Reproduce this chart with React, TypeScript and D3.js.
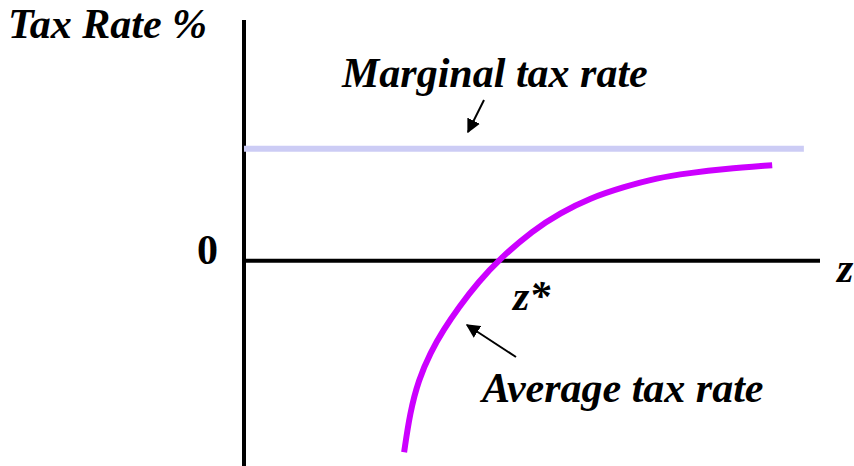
import React from "react";
import * as d3 from "d3";

const W = 854;
const H = 466;

// Average tax rate curve (z, rate %)
const avgZ = [27.8, 28.8, 30.3, 32.4, 34.6, 37.3, 40.7, 44.4, 50.2, 54.9, 60.1, 65.8, 71.7, 77.4, 83.2, 91.7];
const avgRate = [-51.3, -40.8, -31.9, -24.5, -18.6, -12.4, -5.7, 0.5, 8.2, 12.8, 16.8, 19.7, 22.2, 23.5, 24.6, 25.6];
const marginalRate = 30;
const marginalEnd = 97.2;
const zMax = 100;

export default function App() {
  const x = d3.scaleLinear().domain([0, zMax]).range([244, 820]);
  const y = d3.scaleLinear().domain([-55, 64.5]).range([466, 20]);
  const pts: [number, number][] = avgZ.map((z, i) => [z, avgRate[i]]);
  const line = d3
    .line<[number, number]>()
    .x((d) => x(d[0]))
    .y((d) => y(d[1]))
    .curve(d3.curveBasis);

  const font = "Liberation Serif, Times New Roman, serif";

  return (
    <svg width={W} height={H} style={{ position: "absolute", left: 0, top: 0 }}>
      <defs>
        <marker id="ah" viewBox="0 0 10 10" refX="9" refY="5" markerWidth="7" markerHeight="7" orient="auto" markerUnits="strokeWidth">
          <path d="M0,0 L10,5 L0,10 z" fill="#000" />
        </marker>
      </defs>
      <rect width={W} height={H} fill="#fff" />
      {/* axes */}
      <line x1={x(0)} x2={x(0)} y1={y(64.5)} y2={y(-55)} stroke="#000" strokeWidth={4} />
      <line x1={x(0)} x2={x(zMax)} y1={y(0)} y2={y(0)} stroke="#000" strokeWidth={4} />
      {/* marginal tax rate */}
      <line x1={x(0)} x2={x(marginalEnd)} y1={y(marginalRate)} y2={y(marginalRate)} stroke="#ccccf5" strokeWidth={6} />
      {/* average tax rate */}
      <path d={line(pts) || ""} fill="none" stroke="#cc00ff" strokeWidth={6} />
      {/* arrows */}
      <line x1={484} y1={100} x2={468} y2={132} stroke="#000" strokeWidth={2} markerEnd="url(#ah)" />
      <line x1={516} y1={357} x2={467} y2={325} stroke="#000" strokeWidth={2} markerEnd="url(#ah)" />
      {/* texts */}
      <g fontFamily={font} fontWeight="bold" fontStyle="italic" fontSize={42} fill="#000">
        <text x={8} y={38}>Tax Rate %</text>
        <text x={342} y={87}>Marginal tax rate</text>
        <text x={197} y={264} fontStyle="normal">0</text>
        <text x={837} y={282}>z</text>
        <text x={513} y={310}>z*</text>
        <text x={482} y={402}>Average tax rate</text>
      </g>
    </svg>
  );
}
